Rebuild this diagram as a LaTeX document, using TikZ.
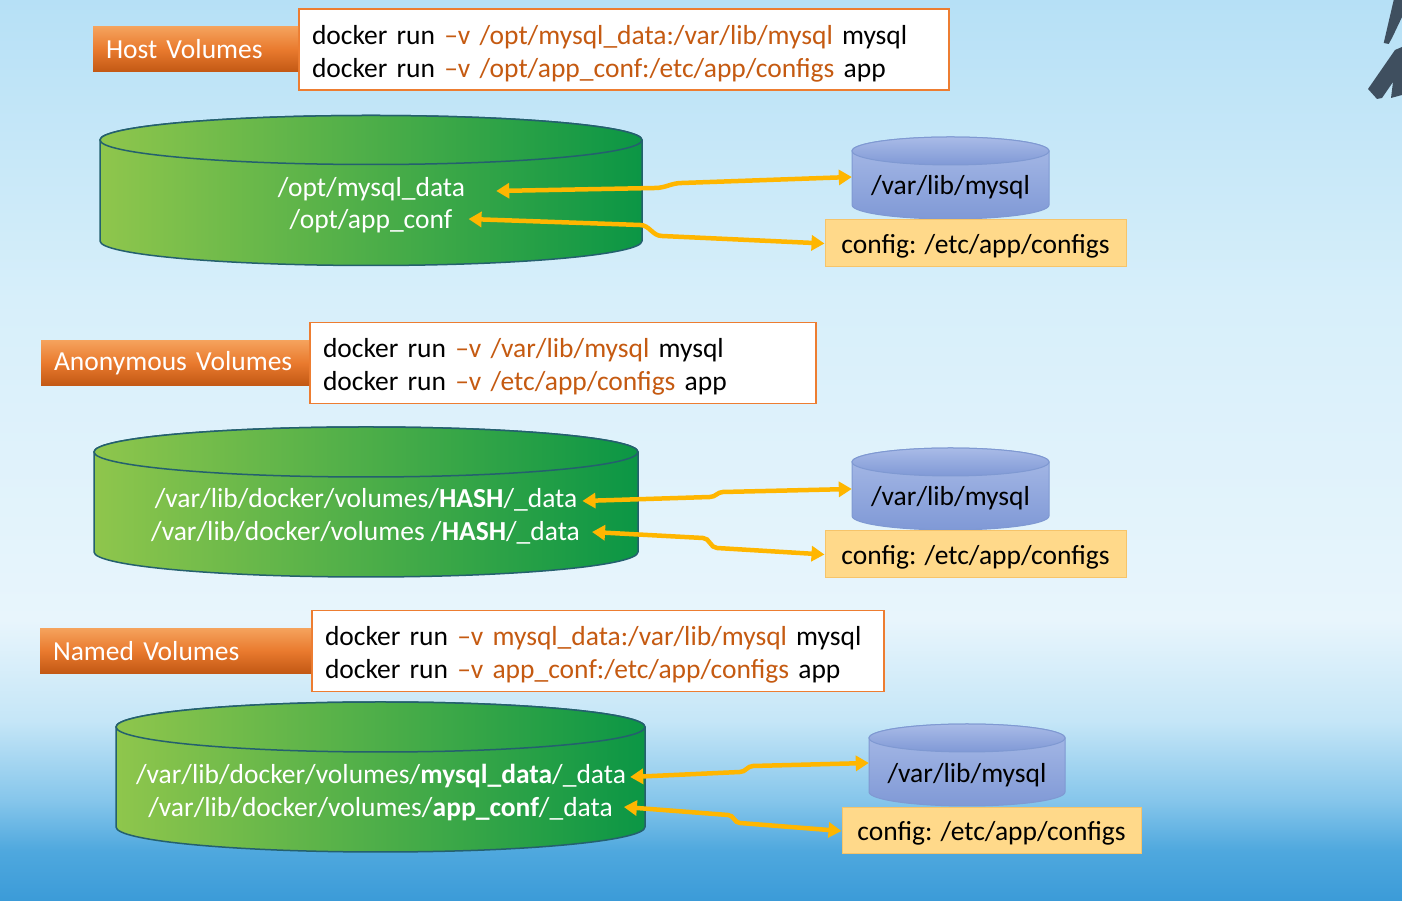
\documentclass[tikz,border=0pt]{standalone}
\usepackage{fontspec}
\setmainfont{Carlito}
\usetikzlibrary{positioning,arrows.meta}

\definecolor{bgA}{HTML}{3B9BD8}
\definecolor{bgB}{HTML}{4FA8DE}
\definecolor{bgC}{HTML}{86C6EB}
\definecolor{bgD}{HTML}{C5E6F7}
\definecolor{bgE}{HTML}{E8F5FC}
\definecolor{bgF}{HTML}{D7EFFA}
\definecolor{bgG}{HTML}{B6E0F6}
\definecolor{cmdorange}{HTML}{C55A11}
\definecolor{cmdedge}{HTML}{ED7D31}
\definecolor{tagtop}{HTML}{F5A25C}
\definecolor{tagmid}{HTML}{E97A2E}
\definecolor{tagbot}{HTML}{C25814}
\definecolor{drumlight}{HTML}{8FC64C}
\definecolor{drumdark}{HTML}{0B9645}
\definecolor{drumedge}{HTML}{24606E}
\definecolor{vartop}{HTML}{A9BBE7}
\definecolor{varbot}{HTML}{8099D6}
\definecolor{varedge}{HTML}{7F99D2}
\definecolor{cfgfill}{HTML}{FFD98A}
\definecolor{cfgedge}{HTML}{F6C46A}
\definecolor{linkgold}{HTML}{FFB600}
\definecolor{logo}{HTML}{3F4F5F}

\pgfdeclareverticalshading{slidebg}{100bp}{color(0bp)=(bgA); color(25bp)=(bgA);
  color(27.8bp)=(bgB); color(30.6bp)=(bgC); color(35bp)=(bgD); color(40.6bp)=(bgE);
  color(58.4bp)=(bgF); color(75bp)=(bgG); color(100bp)=(bgG)}

\begin{document}
\begin{tikzpicture}[x=1pt,y=1pt,
    font=\fontsize{27.5pt}{33pt}\selectfont,
    cmdbox/.style={draw=cmdedge, line width=1.5pt, fill=white, minimum height=81pt,
      inner xsep=13pt, inner ysep=0pt, align=left, execute at begin node={\rule{0pt}{27pt}}},
    tagbox/.style={top color=tagtop, bottom color=tagbot, middle color=tagmid,
      text=white, minimum height=45pt, inner xsep=13pt, inner ysep=0pt, align=left},
    greendrum/.style={left color=drumlight, right color=drumdark, draw=drumedge, line width=1.5pt},
    bluedrum/.style={top color=vartop, bottom color=varbot, draw=varedge, line width=1pt},
    drumtext/.style={text=white, inner sep=0pt, text depth=0pt},
    vartext/.style={inner sep=0pt, minimum width=197pt, text depth=0pt},
    cfgbox/.style={fill=cfgfill, draw=cfgedge, line width=1pt, minimum width=301pt,
      minimum height=47pt, inner sep=0pt, text depth=0pt},
    link/.style={draw=linkgold, line width=4.5pt, >={Triangle[length=13pt,width=15pt]}, <->}]
    \useasboundingbox (0,0) rectangle (1402,901);
    \shade[shading=slidebg] (0,0) rectangle (1402,901);
    % logo corner
    \fill[logo] (1393.7,901) -- (1402,901) -- (1402,884) -- (1392,863) -- (1388.7,857) -- (1383.7,858) -- cycle;
    \fill[logo] (1395,851) -- (1402,854) -- (1402,806) -- (1391,803) -- (1393,819) -- (1382,803)
        -- (1377,802) -- (1368,812) -- cycle;

    % host volumes
    \node[cmdbox, text width=624pt] (hostcmd) at (624,851.5)
        {docker run {\color{cmdorange}–v /opt/mysql\_data:/var/lib/mysql} mysql\\
         docker run {\color{cmdorange}–v /opt/app\_conf:/etc/app/configs} app};
    \node[tagbox, text width=179pt, left=0pt of hostcmd] (hostlbl) {Host Volumes};
    \draw[greendrum] (100,761) -- (100,660) arc[start angle=180, end angle=360, x radius=271, y radius=24.5]
        -- (642,761) arc[start angle=0, end angle=180, x radius=271, y radius=24.5] -- cycle;
    \draw[greendrum] (371,761) ellipse[x radius=271, y radius=24.5];
    \node[drumtext] (hmysql) at (371.5,714) {/opt/mysql\_data};
    \node[drumtext] (hconf) at (371,682) {/opt/app\_conf};
    \draw[bluedrum] (852,750) -- (852,696) arc[start angle=180, end angle=360, x radius=98.5, y radius=14]
        -- (1049,750) arc[start angle=0, end angle=180, x radius=98.5, y radius=14] -- cycle;
    \draw[bluedrum] (950.5,750) ellipse[x radius=98.5, y radius=14];
    \node[vartext] (hvar) at (950.5,716) {/var/lib/mysql};
    \node[cfgbox] (hcfg) at (975.5,657.5) {config: /etc/app/configs};
    \draw[link] ([shift={(31pt,-4pt)}]hmysql.east) -- (655,713) to[out=0,in=180] (682,718)
        -- ([yshift=8pt]hvar.west);
    \draw[link] ([xshift=16pt]hconf.east) -- (640,676) to[out=0,in=180] (662,665) -- (hcfg.west);

    % anonymous volumes
    \node[cmdbox, text width=480pt] (anoncmd) at (563,538)
        {docker run {\color{cmdorange}–v /var/lib/mysql} mysql\\
         docker run {\color{cmdorange}–v /etc/app/configs} app};
    \node[tagbox, text width=242pt, left=0pt of anoncmd] (anonlbl) {Anonymous Volumes};
    \draw[greendrum] (94,449) -- (94,349) arc[start angle=180, end angle=360, x radius=272, y radius=25]
        -- (638,449) arc[start angle=0, end angle=180, x radius=272, y radius=25] -- cycle;
    \draw[greendrum] (366,449) ellipse[x radius=272, y radius=25];
    \node[drumtext] (amysql) at (366,403) {/var/lib/docker/volumes/\textbf{HASH}/\_data};
    \node[drumtext] (aconf) at (365.5,370) {/var/lib/docker/volumes /\textbf{HASH}/\_data};
    \draw[bluedrum] (852,439) -- (852,385) arc[start angle=180, end angle=360, x radius=98.5, y radius=14]
        -- (1049,439) arc[start angle=0, end angle=180, x radius=98.5, y radius=14] -- cycle;
    \draw[bluedrum] (950.5,439) ellipse[x radius=98.5, y radius=14];
    \node[vartext] (avar) at (950.5,405) {/var/lib/mysql};
    \node[cfgbox] (acfg) at (975.5,346.5) {config: /etc/app/configs};
    \draw[link] ([shift={(5pt,-3pt)}]amysql.east) -- (710,404) to[out=0,in=180] (723,409)
        -- ([yshift=7pt]avar.west);
    \draw[link] ([shift={(12pt,-1pt)}]aconf.east) -- (703,363) to[out=0,in=180] (717,353) -- (acfg.west);

    % named volumes
    \node[cmdbox, text width=546pt] (namedcmd) at (598,250)
        {docker run {\color{cmdorange}–v mysql\_data:/var/lib/mysql} mysql\\
         docker run {\color{cmdorange}–v app\_conf:/etc/app/configs} app};
    \node[tagbox, text width=245pt, left=0pt of namedcmd] (namedlbl) {Named Volumes};
    \draw[greendrum] (116,174) -- (116,74) arc[start angle=180, end angle=360, x radius=264.5, y radius=25]
        -- (645,174) arc[start angle=0, end angle=180, x radius=264.5, y radius=25] -- cycle;
    \draw[greendrum] (380.5,174) ellipse[x radius=264.5, y radius=25];
    \node[drumtext] (nmysql) at (381,127) {/var/lib/docker/volumes/\textbf{mysql\_data}/\_data};
    \node[drumtext] (nconf) at (380.5,94) {/var/lib/docker/volumes/\textbf{app\_conf}/\_data};
    \draw[bluedrum] (869,163) -- (869,109) arc[start angle=180, end angle=360, x radius=98, y radius=14]
        -- (1065,163) arc[start angle=0, end angle=180, x radius=98, y radius=14] -- cycle;
    \draw[bluedrum] (967,163) ellipse[x radius=98, y radius=14];
    \node[vartext, minimum width=196pt] (nvar) at (967,128) {/var/lib/mysql};
    \node[cfgbox, minimum width=299pt, minimum height=46pt] (ncfg) at (991.5,70) {config: /etc/app/configs};
    \draw[link] ([shift={(4pt,-3pt)}]nmysql.east) -- (740,129) to[out=0,in=180] (753,135)
        -- ([yshift=10pt]nvar.west);
    \draw[link] ([xshift=11pt]nconf.east) -- (728,86) to[out=0,in=180] (740,78) -- (ncfg.west);
\end{tikzpicture}
\end{document}
